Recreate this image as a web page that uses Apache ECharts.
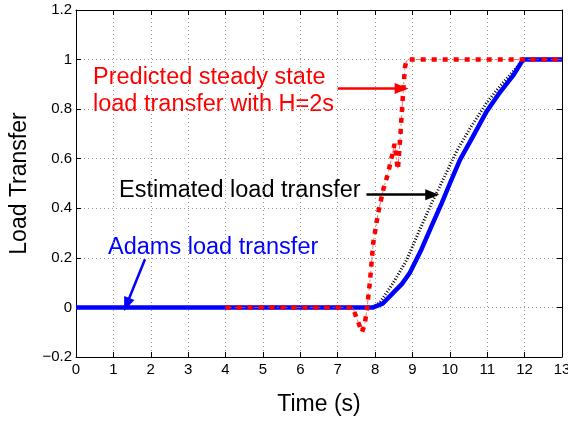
<!DOCTYPE html>
<html>
<head>
<meta charset="utf-8">
<script src="https://cdn.jsdelivr.net/npm/echarts@6/dist/echarts.min.js"></script>
<style>
  html, body { margin: 0; padding: 0; background: #fff; }
  #chart { width: 568px; height: 421px; }
</style>
</head>
<body>
<div id="chart"></div>
<script>
// Adams simulation load transfer (blue)
const adamsTime = [0, 7.95, 8.2, 8.49, 8.72, 8.93, 9.24, 9.51, 9.78, 10.0, 10.27, 10.62, 10.98, 11.34, 11.69, 11.96, 13];
const adamsLoad = [0, 0, 0.015, 0.06, 0.095, 0.14, 0.234, 0.328, 0.42, 0.50, 0.595, 0.69, 0.79, 0.868, 0.935, 1.0, 1.0];

// Estimated load transfer (black dotted)
const estTime = [0, 7.95, 8.13, 8.49, 8.84, 9.2, 9.51, 9.82, 10.18, 10.53, 10.98, 11.34, 11.74, 11.92, 12.0, 13];
const estLoad = [0, 0, 0.02, 0.10, 0.19, 0.315, 0.42, 0.516, 0.63, 0.72, 0.825, 0.892, 0.96, 0.993, 1.0, 1.0];

// Predicted steady state load transfer, H = 2 s (red dash-dot)
const predTime = [4, 7.4, 7.55, 7.65, 7.72, 7.78, 7.86, 7.95, 8.08, 8.22, 8.35, 8.45, 8.52, 8.57, 8.61, 8.64, 8.68, 8.72, 8.76, 8.80, 8.84, 8.9, 13];
const predLoad = [0, 0, -0.06, -0.1, -0.07, -0.01, 0.10, 0.26, 0.38, 0.476, 0.543, 0.61, 0.66, 0.60, 0.556, 0.62, 0.70, 0.80, 0.89, 0.97, 0.995, 1.0, 1.0];

// Axis ticks
const xTicks = { min: 0, max: 13, step: 1 };
const yTicks = { min: -0.2, max: 1.2, step: 0.2 };

// Annotation arrows (data coordinates: [start], [tip])
const predArrow = [[7.0, 0.883], [8.71, 0.883]];
const estArrow = [[7.77, 0.455], [9.53, 0.455]];
const adamsArrow = [[1.845, 0.194], [1.355, 0.012]];

const FONT = '"Liberation Sans", Arial, Helvetica, sans-serif';

function zip(xs, ys) { return xs.map((x, i) => [x, ys[i]]); }

function arrow(pts, color) {
  return {
    silent: true,
    animation: false,
    symbol: ['none', 'triangle'],
    symbolSize: [11, 14],
    label: { show: false },
    lineStyle: { color: color, width: 2.5, type: 'solid' },
    emphasis: { disabled: true },
    data: [[{ coord: pts[0] }, { coord: pts[1] }]]
  };
}

function tickLabel(v) {
  const r = Math.round(v * 10) / 10;
  return String(r).replace('-', '\u2212');
}

const chart = echarts.init(document.getElementById('chart'), null, { renderer: 'canvas' });

const axisLineStyle = { lineStyle: { color: '#000', width: 1 } };
const splitStyle = { show: true, lineStyle: { color: '#999', width: 1, type: [1, 3] } };

chart.setOption({
  animation: false,
  backgroundColor: '#fff',
  textStyle: { fontFamily: FONT },
  grid: { left: 76, right: 6, top: 10, bottom: 64, containLabel: false, outerBoundsMode: 'none' },
  xAxis: [{
    type: 'value', position: 'bottom',
    min: xTicks.min, max: xTicks.max, interval: xTicks.step,
    axisLine: { show: true, onZero: false, ...axisLineStyle },
    axisTick: { show: true, inside: true, length: 5, lineStyle: { color: '#000' } },
    axisLabel: { color: '#000', fontSize: 15, fontFamily: FONT, margin: 5, formatter: tickLabel },
    splitLine: splitStyle,
    name: 'Time (s)', nameLocation: 'middle', nameGap: 36,
    nameTextStyle: { color: '#000', fontSize: 23, fontFamily: FONT }
  }, {
    type: 'value', position: 'top',
    min: xTicks.min, max: xTicks.max, interval: xTicks.step,
    axisLine: { show: true, onZero: false, ...axisLineStyle },
    axisTick: { show: true, inside: true, length: 5, lineStyle: { color: '#000' } },
    axisLabel: { show: false },
    splitLine: { show: false }
  }],
  yAxis: [{
    type: 'value', position: 'left',
    min: yTicks.min, max: yTicks.max, interval: yTicks.step,
    axisLine: { show: true, onZero: false, ...axisLineStyle },
    axisTick: { show: true, inside: true, length: 5, lineStyle: { color: '#000' } },
    axisLabel: { color: '#000', fontSize: 15, fontFamily: FONT, margin: 4, formatter: tickLabel },
    splitLine: splitStyle,
    name: 'Load Transfer', nameLocation: 'middle', nameGap: 39, nameRotate: 90,
    nameTextStyle: { color: '#000', fontSize: 23, fontFamily: FONT }
  }, {
    type: 'value', position: 'right',
    min: yTicks.min, max: yTicks.max, interval: yTicks.step,
    axisLine: { show: true, onZero: false, ...axisLineStyle },
    axisTick: { show: true, inside: true, length: 5, lineStyle: { color: '#000' } },
    axisLabel: { show: false },
    splitLine: { show: false }
  }],
  series: [
    {
      name: 'Estimated load transfer', type: 'line', showSymbol: false, silent: true,
      data: zip(estTime, estLoad),
      lineStyle: { color: '#000', width: 3, type: [1, 2] },
      markLine: arrow(estArrow, '#000')
    },
    {
      name: 'Adams load transfer', type: 'line', showSymbol: false, silent: true,
      data: zip(adamsTime, adamsLoad),
      lineStyle: { color: '#0000ff', width: 4.5, type: 'solid', join: 'round' },
      markLine: arrow(adamsArrow, '#0000ff')
    },
    {
      name: 'Predicted (thin)', type: 'line', showSymbol: false, silent: true,
      data: zip(predTime, predLoad),
      lineStyle: { color: '#ff5050', width: 1, type: [6, 3, 2, 3], opacity: 0.8 }
    },
    {
      name: 'Predicted steady state load transfer with H=2s', type: 'line', showSymbol: false, silent: true,
      data: zip(predTime, predLoad),
      lineStyle: { color: '#ff0000', width: 4.5, type: [5, 6], cap: 'butt' },
      markLine: arrow(predArrow, '#ff0000')
    }
  ],
  graphic: [
    { type: 'text', x: 93, y: 78, silent: true,
      style: { text: 'Predicted steady state', fill: '#ff0000', font: '23.5px ' + FONT, verticalAlign: 'middle' } },
    { type: 'text', x: 93, y: 105, silent: true,
      style: { text: 'load transfer with H=2s', fill: '#ff0000', font: '23.5px ' + FONT, verticalAlign: 'middle' } },
    { type: 'text', x: 119, y: 191, silent: true,
      style: { text: 'Estimated load transfer', fill: '#000', font: '23.5px ' + FONT, verticalAlign: 'middle' } },
    { type: 'text', x: 108, y: 248, silent: true,
      style: { text: 'Adams load transfer', fill: '#0000ff', font: '23.5px ' + FONT, verticalAlign: 'middle' } }
  ]
});
</script>
</body>
</html>
